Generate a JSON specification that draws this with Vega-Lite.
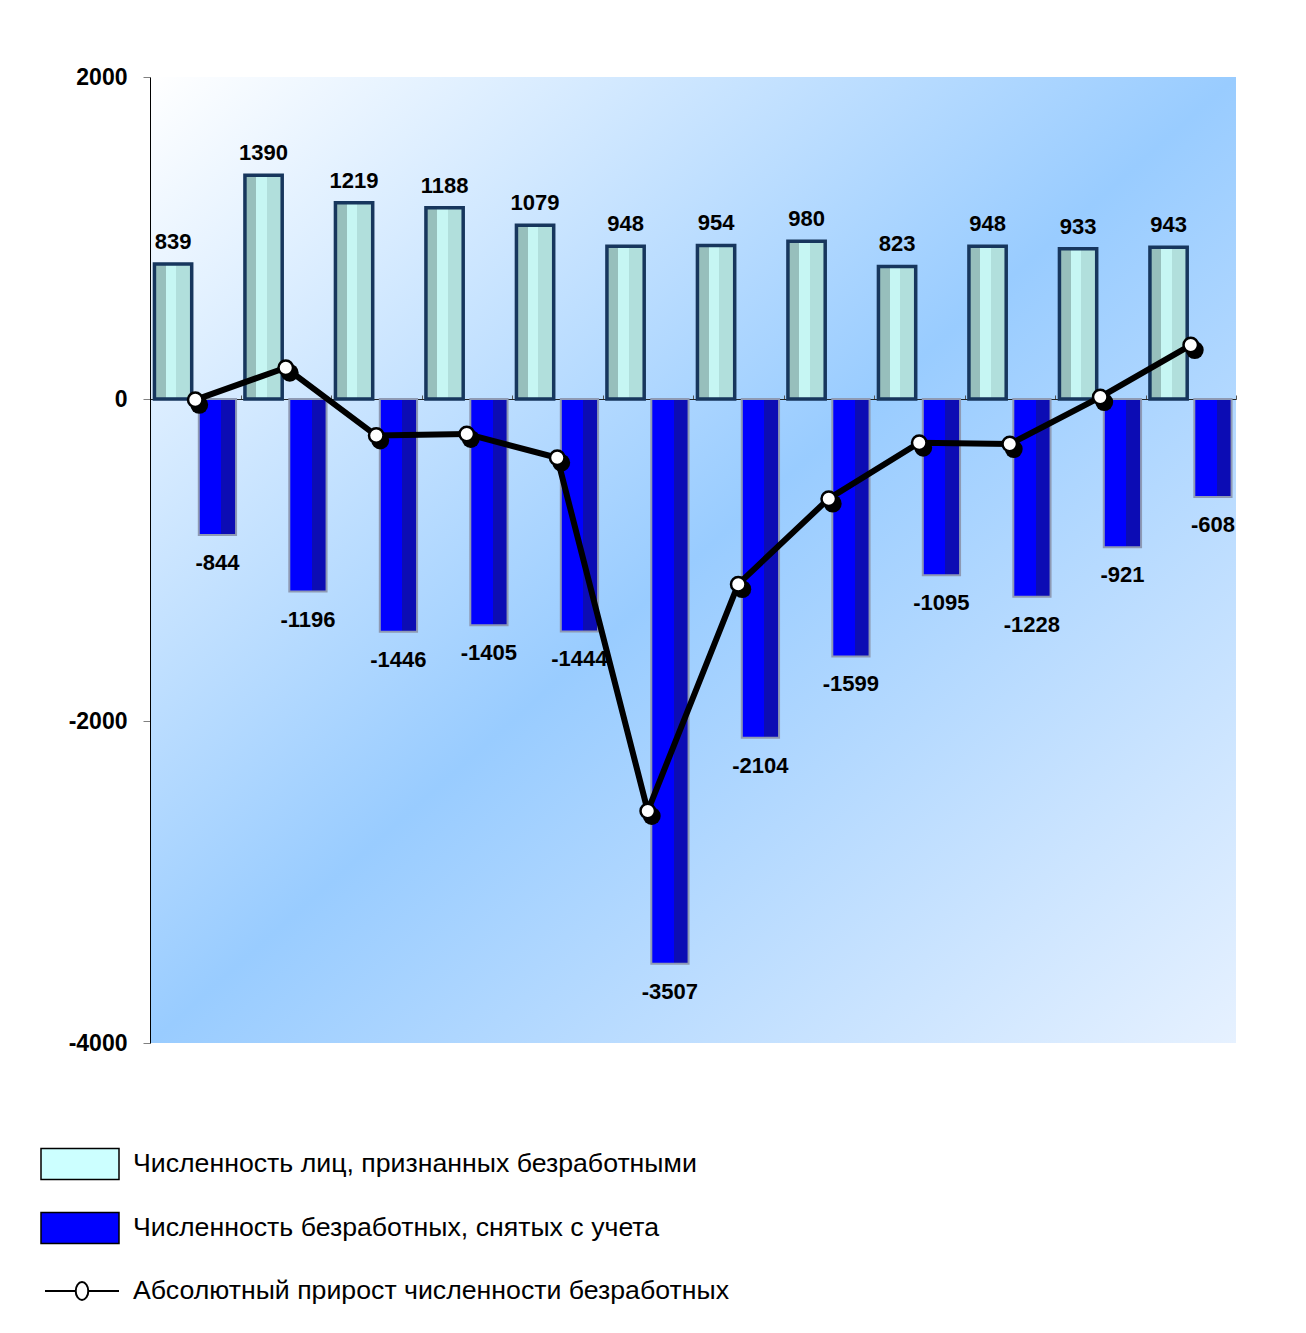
{
  "$schema": "https://vega.github.io/schema/vega-lite/v6.json",
  "width": 1086,
  "height": 966,
  "autosize": {"type": "none"},
  "padding": {"left": 150, "top": 77, "right": 70, "bottom": 290},
  "background": "white",
  "config": {
    "view": {
      "stroke": null,
      "fill": {
        "gradient": "linear", "x1": 0, "y1": 0, "x2": 1, "y2": 1,
        "stops": [
          {"offset": 0, "color": "#ffffff"},
          {"offset": 0.5, "color": "#99ccff"},
          {"offset": 1, "color": "#e6f1ff"}
        ]
      }
    },
    "font": "Liberation Sans"
  },
  "data": {
    "values": [
      {"m": "01", "reg": 839, "off": -844, "inc": -5},
      {"m": "02", "reg": 1390, "off": -1196, "inc": 194},
      {"m": "03", "reg": 1219, "off": -1446, "inc": -227},
      {"m": "04", "reg": 1188, "off": -1405, "inc": -217},
      {"m": "05", "reg": 1079, "off": -1444, "inc": -365},
      {"m": "06", "reg": 948, "off": -3507, "inc": -2559},
      {"m": "07", "reg": 954, "off": -2104, "inc": -1150},
      {"m": "08", "reg": 980, "off": -1599, "inc": -619},
      {"m": "09", "reg": 823, "off": -1095, "inc": -272},
      {"m": "10", "reg": 948, "off": -1228, "inc": -280},
      {"m": "11", "reg": 933, "off": -921, "inc": 12},
      {"m": "12", "reg": 943, "off": -608, "inc": 335}
    ]
  },
  "layer": [
    {
      "transform": [{"fold": ["reg", "off"], "as": ["s", "v"]}],
      "mark": {"type": "bar"},
      "encoding": {
        "x": {
          "field": "m", "type": "nominal",
          "scale": {"paddingInner": 0, "paddingOuter": 0},
          "axis": {
            "orient": "top", "offset": -322, "title": null, "labels": false,
            "ticks": true, "tickBand": "extent", "tickSize": 4, "tickColor": "#555555",
            "domain": true, "domainColor": "#222222", "domainWidth": 1, "grid": false
          }
        },
        "xOffset": {
          "field": "s", "type": "nominal",
          "scale": {"domain": ["reg", "off"], "paddingInner": 0.16, "paddingOuter": 0.1}
        },
        "y": {
          "field": "v", "type": "quantitative",
          "scale": {"domain": [-4000, 2000], "nice": false, "zero": false},
          "axis": {
            "title": null, "values": [-4000, -2000, 0, 2000], "labelExpr": "datum.value + ''",
            "labelFont": "Liberation Sans", "labelFontSize": 23, "labelFontWeight": "bold", "labelColor": "black",
            "labelPadding": 16, "tickSize": 7, "tickColor": "#808080", "domainColor": "black", "domainWidth": 1, "grid": false
          }
        },
        "fill": {
          "field": "s", "type": "nominal",
          "scale": {"domain": ["reg", "off"], "range": ["#ccffff", "#0000ff"]},
          "legend": {
            "orient": "none", "legendX": -110, "legendY": 1047, "title": null,
            "symbolType": "M-1,-0.4L1,-0.4L1,0.4L-1,0.4Z", "symbolSize": 6084,
            "symbolStrokeColor": "black", "symbolStrokeWidth": 1.5,
            "labelFont": "Liberation Sans", "labelFontSize": 26.7, "labelColor": "black",
            "labelOffset": 13, "labelLimit": 0, "rowPadding": 5,
            "labelExpr": "datum.label == 'reg' ? 'Численность лиц, признанных безработными' : 'Численность безработных, снятых с учета'"
          }
        }
      }
    },
    {
      "transform": [{"fold": ["reg", "off"], "as": ["s", "v"]}, {"filter": "datum.s == 'reg'"}],
      "mark": {
        "type": "bar", "stroke": "#17365d", "strokeWidth": 3.5,
        "fill": {
          "gradient": "linear", "x1": 0, "y1": 0, "x2": 1, "y2": 0,
          "stops": [
            {"offset": 0, "color": "#97bfbc"}, {"offset": 0.3, "color": "#97bfbc"},
            {"offset": 0.3, "color": "#c6f6f3"}, {"offset": 0.58, "color": "#c6f6f3"},
            {"offset": 0.58, "color": "#b1dfdc"}, {"offset": 1, "color": "#b1dfdc"}
          ]
        }
      },
      "encoding": {
        "x": {"field": "m", "type": "nominal"},
        "xOffset": {"field": "s", "type": "nominal"},
        "y": {"field": "v", "type": "quantitative"}
      }
    },
    {
      "transform": [{"fold": ["reg", "off"], "as": ["s", "v"]}, {"filter": "datum.s == 'off'"}],
      "mark": {
        "type": "bar", "stroke": "#8e9ab4", "strokeWidth": 2,
        "fill": {
          "gradient": "linear", "x1": 0, "y1": 0, "x2": 1, "y2": 0,
          "stops": [
            {"offset": 0, "color": "#0000ff"}, {"offset": 0.6, "color": "#0000ff"},
            {"offset": 0.6, "color": "#0c0cb4"}, {"offset": 1, "color": "#0c0cb4"}
          ]
        }
      },
      "encoding": {
        "x": {"field": "m", "type": "nominal"},
        "xOffset": {"field": "s", "type": "nominal"},
        "y": {"field": "v", "type": "quantitative"}
      }
    },
    {
      "transform": [{"fold": ["reg", "off"], "as": ["s", "v"]}, {"filter": "datum.s == 'reg'"}],
      "mark": {"type": "text", "baseline": "alphabetic", "dy": -15, "fontSize": 22, "fontWeight": "bold", "font": "Liberation Sans", "color": "black"},
      "encoding": {
        "x": {"field": "m", "type": "nominal"},
        "xOffset": {"field": "s", "type": "nominal"},
        "y": {"field": "v", "type": "quantitative"},
        "text": {"field": "v", "type": "nominal"}
      }
    },
    {
      "transform": [{"fold": ["reg", "off"], "as": ["s", "v"]}, {"filter": "datum.s == 'off'"}],
      "mark": {"type": "text", "baseline": "alphabetic", "dy": 35, "fontSize": 22, "fontWeight": "bold", "font": "Liberation Sans", "color": "black", "clip": true},
      "encoding": {
        "x": {"field": "m", "type": "nominal"},
        "xOffset": {"field": "s", "type": "nominal"},
        "y": {"field": "v", "type": "quantitative"},
        "text": {"field": "v", "type": "nominal"}
      }
    },
    {
      "mark": {"type": "line", "strokeWidth": 6},
      "encoding": {
        "x": {"field": "m", "type": "nominal"},
        "y": {"field": "inc", "type": "quantitative"},
        "stroke": {
          "datum": "Абсолютный прирост численности безработных",
          "scale": {"range": ["black"]},
          "legend": {
            "orient": "none", "legendX": -106, "legendY": 1176, "title": null,
            "symbolType": "M-1,0L-0.17,0M0.17,0L1,0M-0.17,0A0.17,0.24,0,1,1,0.17,0A0.17,0.24,0,1,1,-0.17,0",
            "symbolSize": 5476, "symbolStrokeWidth": 2, "symbolFillColor": "transparent",
            "labelFont": "Liberation Sans", "labelFontSize": 26.7, "labelColor": "black",
            "labelOffset": 13, "labelLimit": 0
          }
        }
      }
    },
    {
      "mark": {"type": "point", "filled": true, "color": "black", "size": 320, "opacity": 1, "xOffset": 4, "yOffset": 5},
      "encoding": {
        "x": {"field": "m", "type": "nominal"},
        "y": {"field": "inc", "type": "quantitative"}
      }
    },
    {
      "mark": {"type": "point", "filled": true, "fill": "white", "stroke": "black", "strokeWidth": 2.5, "size": 210, "opacity": 1},
      "encoding": {
        "x": {"field": "m", "type": "nominal"},
        "y": {"field": "inc", "type": "quantitative"}
      }
    }
  ]
}
